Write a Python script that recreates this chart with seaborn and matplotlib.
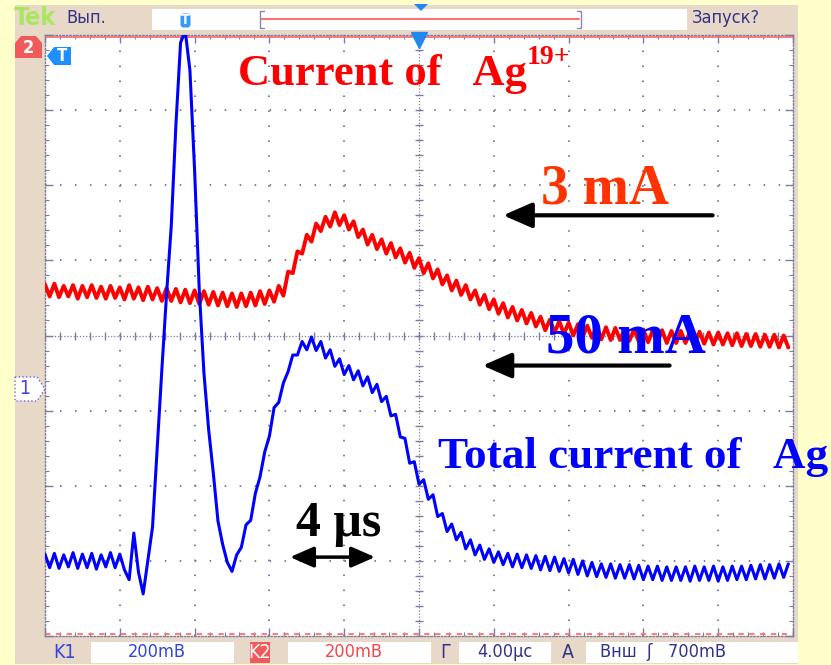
import numpy as np
import pandas as pd
import seaborn as sns
import matplotlib.pyplot as plt
from matplotlib import patches
from matplotlib.transforms import Affine2D
from matplotlib.ticker import MultipleLocator

sns.set_style("white")
plt.rcParams['font.family'] = ['DejaVu Sans']

# time base 4 us/div, 10 div, one sample every 0.25 us
t_us = np.arange(160) * 0.25

# channel 2 (red): current of Ag19+, in screen divisions
ag19 = [0.68, 0.52, 0.69, 0.51, 0.66, 0.52, 0.67, 0.49, 0.66, 0.51,
        0.67, 0.50, 0.65, 0.49, 0.66, 0.50, 0.64, 0.48, 0.67, 0.49,
        0.64, 0.47, 0.65, 0.48, 0.63, 0.46, 0.63, 0.46, 0.62, 0.44,
        0.61, 0.43, 0.60, 0.42, 0.59, 0.41, 0.58, 0.40, 0.57, 0.39,
        0.56, 0.38, 0.56, 0.39, 0.57, 0.40, 0.59, 0.42, 0.60, 0.45,
        0.66, 0.53, 0.85, 0.83, 1.12, 1.09, 1.34, 1.25, 1.49, 1.39,
        1.58, 1.45, 1.64, 1.47, 1.60, 1.41, 1.52, 1.31, 1.41, 1.21,
        1.34, 1.15, 1.28, 1.09, 1.23, 1.04, 1.16, 0.97, 1.10, 0.90,
        1.03, 0.83, 0.96, 0.76, 0.88, 0.68, 0.80, 0.60, 0.73, 0.54,
        0.67, 0.48, 0.60, 0.41, 0.54, 0.35, 0.48, 0.29, 0.43, 0.24,
        0.38, 0.20, 0.34, 0.16, 0.30, 0.12, 0.25, 0.07, 0.21, 0.04,
        0.19, 0.02, 0.17, 0.00, 0.15, -0.02, 0.13, -0.03, 0.12, -0.05,
        0.11, -0.06, 0.10, -0.06, 0.09, -0.07, 0.08, -0.08, 0.08, -0.09,
        0.07, -0.09, 0.07, -0.10, 0.06, -0.10, 0.06, -0.10, 0.05, -0.11,
        0.05, -0.11, 0.04, -0.12, 0.04, -0.12, 0.03, -0.13, 0.03, -0.14,
        0.02, -0.14, 0.02, -0.15, 0.01, -0.15, 0.01, -0.16, 0.00, -0.16]

# channel 1 (blue): total current of Ag, in screen divisions
ag_total = [-2.91, -3.09, -2.90, -3.10, -2.92, -3.08, -2.89, -3.10, -2.91, -3.09,
            -2.90, -3.11, -2.92, -3.08, -2.89, -3.09, -2.91, -3.12, -3.25, -2.63,
            -3.15, -3.44, -3.00, -2.55, -1.50, -0.45, 0.55, 1.45, 2.80, 3.90,
            4.05, 3.53, 2.20, 0.60, -0.50, -1.25, -1.83, -2.47, -2.78, -3.02,
            -3.14, -2.92, -2.82, -2.52, -2.46, -2.10, -1.88, -1.55, -1.34, -0.96,
            -0.89, -0.63, -0.48, -0.26, -0.26, -0.08, -0.19, -0.02, -0.20, -0.08,
            -0.30, -0.19, -0.41, -0.31, -0.52, -0.40, -0.59, -0.47, -0.67, -0.55,
            -0.76, -0.65, -0.88, -0.81, -1.07, -1.05, -1.35, -1.37, -1.70, -1.68,
            -1.98, -1.92, -2.18, -2.12, -2.41, -2.37, -2.61, -2.51, -2.72, -2.62,
            -2.84, -2.72, -2.92, -2.79, -2.98, -2.84, -3.02, -2.88, -3.05, -2.90,
            -3.08, -2.91, -3.09, -2.92, -3.10, -2.93, -3.12, -2.94, -3.13, -2.95,
            -3.14, -2.97, -3.16, -2.98, -3.18, -3.00, -3.20, -3.02, -3.21, -3.04,
            -3.22, -3.04, -3.23, -3.05, -3.23, -3.05, -3.24, -3.06, -3.25, -3.07,
            -3.25, -3.07, -3.26, -3.08, -3.26, -3.08, -3.26, -3.08, -3.27, -3.07,
            -3.26, -3.08, -3.26, -3.07, -3.27, -3.08, -3.26, -3.07, -3.25, -3.07,
            -3.25, -3.06, -3.24, -3.05, -3.24, -3.05, -3.23, -3.04, -3.22, -3.04]

W, H = 831, 665
yellow = '#FFFFCC'
tan = '#E8D8C8'
grid_c = '#7C7CA0'
ui_dark = '#333388'

df = pd.DataFrame({'t': t_us, 'ag19': ag19, 'total': ag_total})

fig = plt.figure(figsize=(W / 100, H / 100), dpi=100)
fig.patch.set_facecolor(yellow)
# pixel coords, origin top-left
pix = Affine2D().scale(1 / W, -1 / H).translate(0, 1) + fig.transFigure

def box(x, y, w, h, fc, ec='none', z=1, **kw):
    fig.add_artist(patches.Rectangle((x, y), w, h, transform=pix, fc=fc, ec=ec, zorder=z, **kw))

def poly(pts, fc, ec='none', z=3, **kw):
    fig.add_artist(patches.Polygon(pts, closed=True, transform=pix, fc=fc, ec=ec, zorder=z, **kw))

def label(x, y, s, color, size=13, ha='left', z=8, **kw):
    fig.text(x, y, s, transform=pix, color=color, fontsize=size, ha=ha, va='center',
             fontstretch='condensed', zorder=z, **kw)

box(15, 5, 783, 659, tan, z=0)

# top bar
label(14, 18, 'Tek', '#A8E860', size=18, fontweight='bold')
label(66, 18, 'Вып.', ui_dark)
box(152, 9, 535, 21, 'white')
fig.add_artist(plt.Line2D([262, 579], [19, 19], transform=pix, color='#FF7070', lw=1.5, zorder=2))
for xb, d in [(260, 4), (581, -4)]:
    fig.add_artist(plt.Line2D([xb + d, xb, xb, xb + d], [11, 11, 28, 28], transform=pix,
                              color='#8888AA', lw=1, zorder=2))
fig.add_artist(patches.FancyBboxPatch((181, 14), 9, 13, boxstyle='round,pad=0.5,rounding_size=3',
                                      transform=pix, fc='#3399FF', ec='none', zorder=3))
label(185.5, 20.5, 'T', 'white', size=10, ha='center', fontweight='bold')
poly([(414, 4), (428, 4), (421, 11)], '#2288EE')
label(692, 18, 'Запуск?', ui_dark)

# bottom bar
label(53, 652, 'K1', '#3344DD', size=14)
box(91, 642, 143, 21, 'white')
label(157, 652, '200mB', '#3344DD', ha='center')
box(250, 642, 20, 21, '#F05A5A')
label(260, 652, 'K2', 'white', ha='center', size=14)
box(288, 642, 143, 21, 'white')
label(354, 652, '200mB', '#F04848', ha='center')
label(440, 652, 'Г', ui_dark, size=14)
box(459, 642, 92, 21, 'white')
label(505, 652, '4.00µс', ui_dark, ha='center')
label(562, 652, 'A', ui_dark, size=14)
box(586, 642, 212, 21, 'white')
label(600, 652, 'Внш  ʃ   700mB', ui_dark)

# channel markers on the left
poly([(15, 43), (21, 36), (36, 36), (42, 43), (42, 58), (15, 58)], '#F05A5A')
label(28.5, 48, '2', 'white', size=13, ha='center', fontweight='bold')
poly([(15, 377), (37, 377), (45, 389), (37, 401), (15, 401)], 'white', ec='#6666DD', ls=':', lw=1)
label(25, 389, '1', '#4444DD', size=14, ha='center')

ax = fig.add_axes([45 / W, 1 - 636 / H, 748 / W, 601 / H])
ax.set_facecolor('white')
ax.set_xlim(0, 40)
ax.set_ylim(-4, 4)

# graticule: dotted division lines, finer centre lines
dots = (0, (0.8, 6.9))
for x in range(4, 40, 4):
    if x != 20:
        ax.axvline(x, color=grid_c, lw=1.4, ls=dots, zorder=1)
for y in range(-3, 4):
    if y != 0:
        ax.axhline(y, color=grid_c, lw=1.4, ls=dots, zorder=1)
ax.axvline(20, color=grid_c, lw=0.9, ls=(0, (1, 1.5)), zorder=1)
ax.axhline(0, color=grid_c, lw=0.9, ls=(0, (1, 1.5)), zorder=1)
ax.plot(np.full(41, 20.0), np.linspace(-4, 4, 41), ls='none', marker='_', ms=6, mew=1, color=grid_c, zorder=1)
ax.plot(np.linspace(0, 40, 51), np.zeros(51), ls='none', marker='|', ms=6, mew=1, color=grid_c, zorder=1)
ax.axhline(3.97, color='#FF7070', lw=1.3, zorder=1)
ax.axhline(-3.97, color='#FF7070', lw=1.3, ls=(0, (3, 3)), zorder=1)

ax.xaxis.set_major_locator(MultipleLocator(4))
ax.xaxis.set_minor_locator(MultipleLocator(0.8))
ax.yaxis.set_major_locator(MultipleLocator(1))
ax.yaxis.set_minor_locator(MultipleLocator(0.2))
ax.tick_params(which='both', direction='in', top=True, right=True, bottom=True, left=True,
               labelbottom=False, labelleft=False, color=grid_c)
ax.tick_params(which='major', length=6, width=1)
ax.tick_params(which='minor', length=3, width=0.8)
for s in ax.spines.values():
    s.set_color(grid_c)
    s.set_linestyle((0, (1, 1.5)))
    s.set_linewidth(1)

sns.lineplot(data=df, x='t', y='ag19', color='#FF0000', lw=2.8, ax=ax, zorder=3)
sns.lineplot(data=df, x='t', y='total', color='#0000FF', lw=2.2, ax=ax, zorder=4)
ax.set_xlabel('')
ax.set_ylabel('')

# trigger and T markers
ax.plot([20], [3.94], marker='v', ms=11, color='#2288EE', clip_on=False, zorder=6)
poly([(47, 56), (54, 47), (71, 47), (71, 65), (54, 65)], '#1E8FFF', z=6)
label(62, 56, 'T', 'white', size=12, ha='center', fontweight='bold', z=9)

serif = ['Liberation Serif', 'DejaVu Serif']
ax.text(10.3, 3.33, 'Current of   Ag', color='#FF0000', fontsize=32, fontweight='bold',
        family=serif, zorder=7)
ax.text(25.75, 3.62, '19+', color='#FF0000', fontsize=20, fontweight='bold', family=serif, zorder=7)
ax.text(26.5, 1.76, '3 mA', color='#FF3300', fontsize=40, fontweight='bold', family=serif, zorder=7)
ax.text(26.8, -0.23, '50 mA', color='#0000FF', fontsize=41, fontweight='bold', family=serif, zorder=7)
ax.text(21.0, -1.77, 'Total current of   Ag', color='#0000FF', fontsize=32.5, fontweight='bold',
        family=serif, zorder=7)
ax.text(13.4, -2.67, '4 μs', color='black', fontsize=36, fontweight='bold', family=serif, zorder=7)

arrow = dict(arrowstyle='-|>,head_length=0.8,head_width=0.35', lw=3, color='black',
             mutation_scale=22, shrinkA=0, shrinkB=0)
ax.annotate('', xy=(24.5, 1.6), xytext=(35.7, 1.6), arrowprops=arrow, zorder=7)
ax.annotate('', xy=(23.4, -0.4), xytext=(33.4, -0.4), arrowprops=arrow, zorder=7)
ax.annotate('', xy=(13.1, -2.95), xytext=(17.65, -2.95), zorder=7,
            arrowprops=dict(arrowstyle='<|-|>,head_length=0.8,head_width=0.35', lw=2.5,
                            color='black', mutation_scale=18, shrinkA=0, shrinkB=0))

fig.savefig('out.png', dpi=100, facecolor=yellow)
